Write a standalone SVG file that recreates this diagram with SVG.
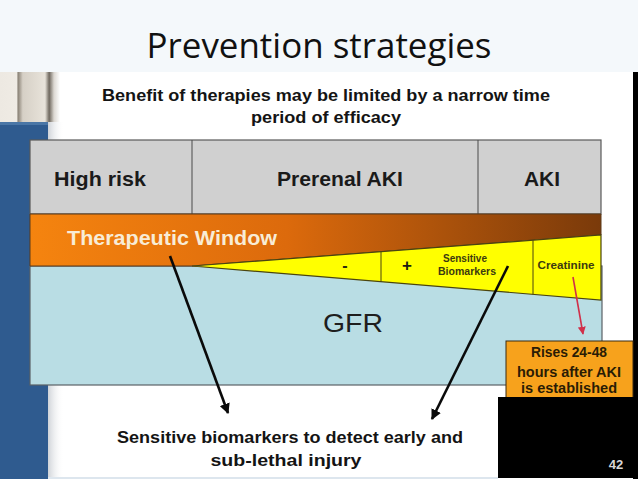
<svg xmlns="http://www.w3.org/2000/svg" width="638" height="479" viewBox="0 0 638 479">
<defs>
<style>
.b{font-family:"Liberation Sans",Arial,sans-serif;font-weight:bold}
.hdr{font-size:17px;fill:#141414;text-anchor:middle}
.cell{font-size:21px;fill:#1a1a1a;text-anchor:middle}
.yel{font-size:11px;fill:#3c3a10;text-anchor:middle}
.box{font-size:14px;fill:#2a1c05;text-anchor:middle}
.conn{stroke:#0a0a0a;stroke-width:2.6;fill:none}
</style>
<linearGradient id="og" x1="0" y1="0" x2="1" y2="0">
<stop offset="0" stop-color="#f5840f"/>
<stop offset="0.45" stop-color="#dc6a0c"/>
<stop offset="1" stop-color="#7a3a0a"/>
</linearGradient>
<linearGradient id="pil" x1="0" y1="0" x2="1" y2="0">
<stop offset="0" stop-color="#ede9e2"/>
<stop offset="0.28" stop-color="#efebe4"/>
<stop offset="0.3" stop-color="#8a8276"/>
<stop offset="0.38" stop-color="#d6d0c6"/>
<stop offset="0.75" stop-color="#e8e3da"/>
<stop offset="0.82" stop-color="#6f685e"/>
<stop offset="0.9" stop-color="#dcd8d2"/>
<stop offset="1" stop-color="#ffffff"/>
</linearGradient>
<linearGradient id="sh" x1="0" y1="0" x2="1" y2="0">
<stop offset="0" stop-color="#cfd3d8"/>
<stop offset="1" stop-color="#ffffff" stop-opacity="0"/>
</linearGradient>
<marker id="ah" viewBox="0 0 10 10" refX="9" refY="5" markerWidth="4" markerHeight="4" orient="auto" markerUnits="strokeWidth">
<path d="M0,0 L10,5 L0,10 z" fill="#0a0a0a"/>
</marker>
<marker id="ahr" viewBox="0 0 10 10" refX="9" refY="5" markerWidth="5" markerHeight="5" orient="auto" markerUnits="strokeWidth">
<path d="M0,0 L10,5 L0,10 z" fill="#d0304a"/>
</marker>
</defs>

<!-- background -->
<rect x="0" y="0" width="638" height="72" fill="#f4f8fb"/>
<rect x="0" y="72" width="638" height="407" fill="#ffffff"/>
<rect x="0" y="72" width="60" height="50" fill="url(#pil)"/>
<rect x="48" y="122" width="16" height="355" fill="url(#sh)"/>
<rect x="0" y="122" width="48" height="357" fill="#2f5b8f"/>
<rect x="0" y="122" width="48" height="3" fill="#4a76a6"/>
<rect x="633" y="72" width="5" height="407" fill="#000000"/>
<rect x="48" y="477" width="450" height="2" fill="#dde6ee"/>

<g id="title">
<text x="319" y="58" font-family="'Open Sans','Noto Sans',sans-serif" font-size="34" fill="#111" text-anchor="middle" textLength="345" lengthAdjust="spacingAndGlyphs">Prevention strategies</text>
</g>

<g id="header">
<text class="b hdr" x="326" y="101" textLength="448" lengthAdjust="spacingAndGlyphs">Benefit of therapies may be limited by a narrow time</text>
<text class="b hdr" x="326" y="123" textLength="150" lengthAdjust="spacingAndGlyphs">period of efficacy</text>
</g>

<g id="gfr">
<rect x="30" y="266" width="572" height="119" fill="#b9dde4" stroke="#5a6166" stroke-width="1.2"/>
<text x="353" y="332" font-family="'Liberation Sans',Arial,sans-serif" font-size="26" fill="#1e1e1e" text-anchor="middle" textLength="60" lengthAdjust="spacingAndGlyphs">GFR</text>
</g>

<g id="stages">
<rect x="30" y="140" width="571" height="74" fill="#d0d0d0" stroke="#5a5a5a" stroke-width="1.2"/>
<line x1="192" y1="140" x2="192" y2="214" stroke="#4a4a4a" stroke-width="1"/>
<line x1="478" y1="140" x2="478" y2="214" stroke="#4a4a4a" stroke-width="1"/>
<text class="b cell" x="100" y="186" textLength="92" lengthAdjust="spacingAndGlyphs">High risk</text>
<text class="b cell" x="340" y="186" textLength="126" lengthAdjust="spacingAndGlyphs">Prerenal AKI</text>
<text class="b cell" x="542" y="186" textLength="36" lengthAdjust="spacingAndGlyphs">AKI</text>
</g>

<g id="therapeutic-window">
<polygon points="30,214 601,214 601,235 192,266 30,266" fill="url(#og)" stroke="#5a3a1a" stroke-width="1"/>
<text class="b" x="172" y="245" font-size="20" fill="#f8ecd6" text-anchor="middle" textLength="210" lengthAdjust="spacingAndGlyphs">Therapeutic Window</text>
</g>

<g id="biomarker-wedge">
<polygon points="192,266 601,235 601,300" fill="#ffff00" stroke="#4a4410" stroke-width="1.2"/>
<line x1="381" y1="251.5" x2="381" y2="281.7" stroke="#4a4410" stroke-width="1"/>
<line x1="533" y1="240.2" x2="533" y2="294.3" stroke="#4a4410" stroke-width="1"/>
<text class="b" x="345" y="271" font-size="16" fill="#2a2a10" text-anchor="middle">-</text>
<text class="b" x="407" y="271" font-size="17" fill="#1a1a10" text-anchor="middle">+</text>
<text class="b yel" x="465" y="262" font-size="10.5" textLength="44" lengthAdjust="spacingAndGlyphs">Sensitive</text>
<text class="b yel" x="467" y="275" font-size="10.5" textLength="58" lengthAdjust="spacingAndGlyphs">Biomarkers</text>
<text class="b yel" x="566" y="269" textLength="57" lengthAdjust="spacingAndGlyphs">Creatinine</text>
</g>

<g id="creatinine-note">
<rect x="506" y="341" width="127" height="62" fill="#f7a21c" stroke="#3a2a10" stroke-width="1"/>
<text class="b box" x="569" y="357" textLength="76" lengthAdjust="spacingAndGlyphs">Rises 24-48</text>
<text class="b box" x="569" y="377" textLength="104" lengthAdjust="spacingAndGlyphs">hours after AKI</text>
<text class="b box" x="569" y="393" textLength="96" lengthAdjust="spacingAndGlyphs">is established</text>
</g>

<g id="slide-number">
<rect x="498" y="397" width="140" height="81" fill="#000000"/>
<text class="b" x="616" y="469" font-size="13" fill="#d8d8d8" text-anchor="middle">42</text>
</g>

<g id="outcome">
<text class="b hdr" x="290" y="443" font-size="17.5" textLength="346" lengthAdjust="spacingAndGlyphs">Sensitive biomarkers to detect early and</text>
<text class="b hdr" x="286" y="466" font-size="17.5" textLength="151" lengthAdjust="spacingAndGlyphs">sub-lethal injury</text>
</g>

<g id="connectors">
<line class="conn" x1="170" y1="256" x2="228" y2="413" marker-end="url(#ah)"/>
<line class="conn" x1="508" y1="266" x2="432" y2="419" marker-end="url(#ah)"/>
<line x1="573" y1="277" x2="583" y2="334" stroke="#d0304a" stroke-width="1.6" marker-end="url(#ahr)"/>
</g>
</svg>
